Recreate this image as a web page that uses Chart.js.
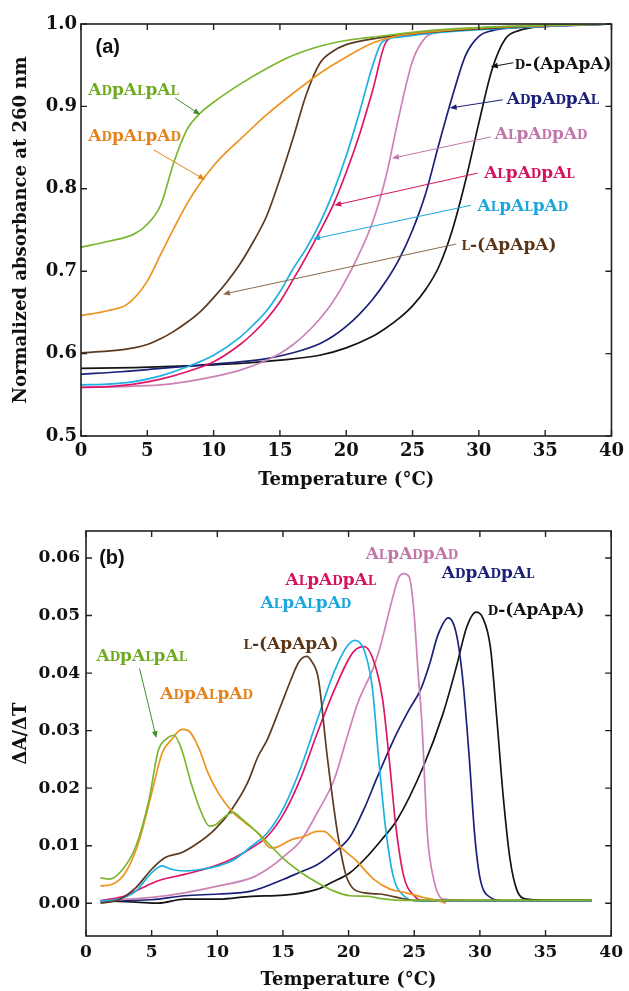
<!DOCTYPE html>
<html>
<head>
<meta charset="utf-8">
<script src="https://cdn.jsdelivr.net/npm/chart.js@4.4.1/dist/chart.umd.min.js"></script>
<style>
  html, body { margin: 0; padding: 0; background: #fff; }
  #wrapA { position: absolute; left: 0; top: 0; }
  #wrapB { position: absolute; left: 0; top: 500px; }
</style>
</head>
<body>
<div id="wrapA"><canvas id="chartA" width="629" height="500"></canvas></div>
<div id="wrapB"><canvas id="chartB" width="629" height="491"></canvas></div>
<script>
// series order is the same in every array below
const seriesNames = ['ADpALpAL', 'ADpALpAD', 'L-(ApApA)', 'ALpALpAD', 'ALpADpAL', 'ALpADpAD', 'ADpADpAL', 'D-(ApApA)'];
const seriesColors = ['#7cb630', '#ec9320', '#5b3a1f', '#1cb0e4', '#df1668', '#cc82b5', '#1b2078', '#141414'];

const xTicks = [0, 5, 10, 15, 20, 25, 30, 35, 40];
const yTicksA = [0.5, 0.6, 0.7, 0.8, 0.9, 1.0];
const yTicksB = [0.00, 0.01, 0.02, 0.03, 0.04, 0.05, 0.06];

// (a) normalized absorbance at 260 nm vs temperature
const tempA = [
  [0, 2, 4, 5, 6, 7, 8, 9, 10, 12, 14, 16, 18, 20, 22, 25, 28, 32, 36, 40],
  [0, 2, 3.5, 5, 6, 7, 8, 9, 10, 11, 12, 14, 16, 18, 20, 22, 24, 26, 30, 35, 40],
  [0, 2, 4, 5, 6, 7, 8, 9, 10, 11, 12, 13, 14, 15, 16, 17, 18, 19, 20, 22, 25, 30, 35, 40],
  [0, 2, 4, 6, 8, 10, 12, 13, 14, 15, 16, 17, 18, 19, 20, 21, 22, 22.7, 24, 26, 30, 35, 40],
  [0, 2, 4, 6, 8, 10, 12, 13, 14, 15, 16, 17, 18, 19, 20, 21, 22, 23, 24, 26, 30, 35, 40],
  [0, 3, 6, 8, 10, 12, 14, 15, 16, 17, 18, 19, 20, 21, 22, 23, 24, 25, 26, 27, 30, 35, 40],
  [0, 3, 6, 9, 12, 14, 16, 18, 19, 20, 21, 22, 23, 24, 25, 26, 27, 28, 29, 30, 31, 33, 36, 40],
  [0, 4, 8, 12, 15, 18, 20, 22, 23, 24, 25, 26, 27, 28, 29, 30, 31, 32, 33, 35, 40]
];
const absA = [
  [0.729, 0.736, 0.745, 0.757, 0.78, 0.832, 0.872, 0.892, 0.905, 0.927, 0.946, 0.962, 0.973, 0.980, 0.984, 0.99, 0.994, 0.997, 0.999, 1.0],
  [0.646, 0.652, 0.660, 0.688, 0.72, 0.752, 0.782, 0.807, 0.828, 0.845, 0.86, 0.89, 0.916, 0.94, 0.96, 0.977, 0.986, 0.99, 0.995, 0.998, 1.0],
  [0.601, 0.603, 0.607, 0.611, 0.618, 0.627, 0.638, 0.651, 0.668, 0.687, 0.709, 0.736, 0.767, 0.812, 0.862, 0.915, 0.952, 0.967, 0.975, 0.982, 0.988, 0.994, 0.998, 1.0],
  [0.562, 0.563, 0.566, 0.573, 0.584, 0.598, 0.62, 0.635, 0.652, 0.675, 0.703, 0.728, 0.758, 0.795, 0.84, 0.893, 0.95, 0.978, 0.984, 0.988, 0.993, 0.997, 1.0],
  [0.559, 0.56, 0.563, 0.569, 0.578, 0.59, 0.611, 0.625, 0.642, 0.663, 0.69, 0.718, 0.748, 0.78, 0.82, 0.866, 0.92, 0.978, 0.986, 0.99, 0.994, 0.997, 1.0],
  [0.559, 0.56, 0.562, 0.566, 0.572, 0.58, 0.592, 0.6, 0.611, 0.625, 0.642, 0.663, 0.69, 0.722, 0.76, 0.815, 0.89, 0.955, 0.984, 0.99, 0.995, 0.998, 1.0],
  [0.575, 0.578, 0.582, 0.586, 0.59, 0.594, 0.601, 0.612, 0.621, 0.633, 0.648, 0.666, 0.688, 0.715, 0.75, 0.795, 0.855, 0.912, 0.962, 0.985, 0.992, 0.996, 0.998, 1.0],
  [0.582, 0.583, 0.585, 0.588, 0.592, 0.598, 0.607, 0.621, 0.631, 0.643, 0.658, 0.678, 0.706, 0.75, 0.81, 0.88, 0.945, 0.982, 0.992, 0.997, 1.0]
];

// (b) dA/dT vs temperature
const tempB = [
  [1.1, 1.8, 2.8, 3.8, 4.8, 5.5, 6.2, 6.7, 7.3, 8.0, 8.8, 9.4, 9.9, 10.6, 11.2, 11.8, 13.1, 14.1, 15.1, 16.4, 17.6, 18.9, 20.1, 21.5, 22.5, 24, 27, 32, 38.5],
  [1.1, 2, 3, 4, 5, 5.8, 6.5, 7.3, 7.8, 8.55, 9.3, 10.1, 11.1, 12.1, 13.1, 14.1, 14.6, 15.6, 16.6, 17.6, 18.1, 18.9, 19.6, 20.5, 21.9, 23.2, 24.4, 25.7, 26.9, 27.4],
  [1.1, 2.5, 3.8, 5, 6, 7.3, 8.55, 9.8, 11.1, 12.3, 13.1, 13.8, 14.8, 15.6, 16.2, 16.8, 17.2, 17.7, 18.4, 19.2, 19.9, 21.2, 22.4, 23.7, 25, 30, 38.5],
  [1.1, 2.5, 3.8, 5, 5.8, 6.5, 7.5, 8.8, 10.1, 11.3, 12.6, 13.8, 15.1, 16.4, 17.6, 18.9, 19.9, 20.5, 21.2, 21.8, 22.3, 22.8, 23.4, 24.2, 25.2, 30, 38.5],
  [1.1, 3, 4.3, 5.5, 7.5, 10.1, 11.3, 12.6, 13.8, 15.1, 16.4, 17.6, 18.9, 20.1, 20.6, 21.2, 21.9, 22.6, 23.1, 23.6, 24.2, 25, 25.7, 30, 38.5],
  [1.1, 5, 7.5, 10.1, 12.6, 13.8, 15.1, 16.4, 17.6, 18.9, 19.9, 20.7, 21.9, 22.4, 23.3, 23.8, 24.2, 24.6, 24.95, 25.3, 25.6, 26, 26.5, 27.2, 30, 38.5],
  [1.1, 5, 7.5, 10.1, 12.6, 15.1, 16.2, 17.6, 18.7, 20.1, 21.2, 22.2, 23.6, 24.6, 25.5, 26.2, 26.8, 27.6, 28.2, 28.7, 29.2, 29.6, 30, 30.8, 31.8, 38.5],
  [1.1, 3.8, 5.5, 7.5, 10.1, 12.6, 15.1, 17.6, 18.7, 20.1, 21.2, 22.5, 23.7, 25.7, 27.2, 28.2, 29, 29.7, 30.2, 30.8, 31.3, 31.8, 32.3, 32.8, 33.6, 35, 38.5]
];
const dAdT = [
  [0.0044, 0.0042, 0.0059, 0.0099, 0.018, 0.0265, 0.0287, 0.0292, 0.0266, 0.0209, 0.0157, 0.0134, 0.0137, 0.0151, 0.0158, 0.0148, 0.0122, 0.0099, 0.0076, 0.0053, 0.0036, 0.0021, 0.0013, 0.0012, 0.0008, 0.0005, 0.0005, 0.0005, 0.0005],
  [0.003, 0.0033, 0.0053, 0.0105, 0.0191, 0.0261, 0.0284, 0.0302, 0.03, 0.0272, 0.0226, 0.0191, 0.016, 0.014, 0.0122, 0.0096, 0.0098, 0.011, 0.0116, 0.0125, 0.0125, 0.011, 0.0093, 0.0076, 0.0042, 0.0024, 0.0018, 0.001, 0.0004, 0.0],
  [0.0, 0.0006, 0.0027, 0.0059, 0.0079, 0.0088, 0.0105, 0.0128, 0.0163, 0.0209, 0.0255, 0.0284, 0.0341, 0.0388, 0.0419, 0.0429, 0.042, 0.039, 0.025, 0.0116, 0.0042, 0.0018, 0.0016, 0.001, 0.0005, 0.0005, 0.0005],
  [0.0004, 0.0007, 0.0021, 0.0053, 0.0065, 0.0059, 0.0056, 0.0059, 0.0065, 0.0076, 0.0099, 0.0122, 0.0168, 0.0238, 0.0318, 0.0402, 0.0447, 0.0457, 0.0439, 0.0376, 0.0249, 0.0134, 0.0047, 0.0013, 0.0004, 0.0004, 0.0004],
  [0.0004, 0.0013, 0.0027, 0.0039, 0.005, 0.0067, 0.0079, 0.0096, 0.0116, 0.0157, 0.022, 0.0295, 0.037, 0.0428, 0.0442, 0.0446, 0.0422, 0.0353, 0.0249, 0.0134, 0.0047, 0.0013, 0.0004, 0.0004, 0.0004],
  [0.0004, 0.001, 0.0018, 0.003, 0.0044, 0.0059, 0.0082, 0.011, 0.0157, 0.0215, 0.029, 0.0348, 0.041, 0.0445, 0.0526, 0.0565, 0.0573, 0.0568, 0.0514, 0.040, 0.0307, 0.012, 0.004, 0.0007, 0.0004, 0.0004],
  [0.0004, 0.0006, 0.0013, 0.0016, 0.0021, 0.0042, 0.0053, 0.0067, 0.0085, 0.0115, 0.0165, 0.022, 0.0292, 0.0336, 0.0372, 0.0418, 0.0466, 0.0496, 0.0469, 0.0388, 0.025, 0.012, 0.0045, 0.001, 0.0004, 0.0004],
  [0.0004, 0.0002, 0.0, 0.0007, 0.0007, 0.0012, 0.0014, 0.0024, 0.0036, 0.0053, 0.0076, 0.011, 0.0145, 0.0238, 0.033, 0.041, 0.048, 0.0506, 0.0497, 0.0445, 0.0318, 0.018, 0.0076, 0.0024, 0.0007, 0.0005, 0.0005]
];

const SERIF = '"DejaVu Serif", "Liberation Serif", serif';
const SANS = '"Liberation Sans", Arial, sans-serif';

// text in braces is drawn as small capitals, e.g. A{D}pA{L}
function drawRich(ctx, str, x, yMid, size, color) {
  const segs = [];
  let buf = '', small = false;
  for (const ch of str) {
    if (ch === '{' || ch === '}') {
      if (buf) segs.push([buf, small]);
      buf = '';
      small = ch === '{';
    } else buf += ch;
  }
  if (buf) segs.push([buf, small]);
  ctx.save();
  ctx.fillStyle = color;
  ctx.textBaseline = 'alphabetic';
  ctx.textAlign = 'left';
  let cx = x;
  const base = yMid + size * 0.36;
  for (const [t, sm] of segs) {
    ctx.font = 'bold ' + (sm ? Math.round(size * 0.72) : size) + 'px ' + SERIF;
    ctx.fillText(t, cx, base);
    cx += ctx.measureText(t).width;
  }
  ctx.restore();
}

function drawArrow(ctx, x0, y0, x1, y1, color) {
  const ang = Math.atan2(y1 - y0, x1 - x0), L = 7, W = 2.8;
  ctx.save();
  ctx.strokeStyle = color;
  ctx.fillStyle = color;
  ctx.lineWidth = 1;
  ctx.beginPath();
  ctx.moveTo(x0, y0);
  ctx.lineTo(x1 - L * 0.6 * Math.cos(ang), y1 - L * 0.6 * Math.sin(ang));
  ctx.stroke();
  ctx.beginPath();
  ctx.moveTo(x1, y1);
  ctx.lineTo(x1 - L * Math.cos(ang) + W * Math.sin(ang), y1 - L * Math.sin(ang) - W * Math.cos(ang));
  ctx.lineTo(x1 - L * Math.cos(ang) - W * Math.sin(ang), y1 - L * Math.sin(ang) + W * Math.cos(ang));
  ctx.closePath();
  ctx.fill();
  ctx.restore();
}

// box round the plot with inward ticks on all four sides
const framePlugin = {
  id: 'frame',
  afterDraw(chart) {
    const { ctx, chartArea: a, scales: { x, y } } = chart;
    const len = 6;
    ctx.save();
    ctx.strokeStyle = '#222';
    ctx.lineWidth = 1.4;
    ctx.beginPath();
    x.ticks.forEach(t => {
      const px = x.getPixelForValue(t.value);
      ctx.moveTo(px, a.bottom); ctx.lineTo(px, a.bottom - len);
      ctx.moveTo(px, a.top); ctx.lineTo(px, a.top + len);
    });
    y.ticks.forEach(t => {
      const py = y.getPixelForValue(t.value);
      ctx.moveTo(a.left, py); ctx.lineTo(a.left + len, py);
      ctx.moveTo(a.right, py); ctx.lineTo(a.right - len, py);
    });
    ctx.stroke();
    ctx.lineWidth = 1.6;
    ctx.strokeRect(a.left, a.top, a.right - a.left, a.bottom - a.top);
    ctx.restore();
  }
};

// panel letter, curve labels and arrows, placed in data units
const notesPlugin = {
  id: 'notes',
  afterDraw(chart, args, opts) {
    const { ctx, scales: { x, y } } = chart;
    if (opts.panel) {
      ctx.save();
      ctx.font = 'bold 20px ' + SANS;
      ctx.fillStyle = '#111';
      ctx.textBaseline = 'middle';
      ctx.fillText(opts.panel.text, x.getPixelForValue(opts.panel.x), y.getPixelForValue(opts.panel.y));
      ctx.restore();
    }
    (opts.items || []).forEach(n => {
      drawRich(ctx, n.text, x.getPixelForValue(n.x), y.getPixelForValue(n.y), 17, n.color);
      if (n.arrow) {
        const [ax0, ay0, ax1, ay1] = n.arrow;
        drawArrow(ctx, x.getPixelForValue(ax0), y.getPixelForValue(ay0),
          x.getPixelForValue(ax1), y.getPixelForValue(ay1), n.arrowColor || n.color);
      }
    });
  }
};

function buildSets(temps, vals) {
  return seriesNames.map((name, i) => ({
    label: name,
    data: temps[i].map((t, k) => ({ x: t, y: vals[i][k] })),
    borderColor: seriesColors[i],
    borderWidth: 1.7,
    pointRadius: 0,
    fill: false,
    cubicInterpolationMode: 'monotone'
  }));
}

function axisFont(size) {
  return { family: SERIF, size: size, weight: 'bold' };
}

function makeOptions(cfg) {
  return {
    responsive: false,
    animation: false,
    events: [],
    layout: { padding: cfg.padding },
    plugins: {
      legend: { display: false },
      tooltip: { enabled: false },
      notes: cfg.notes
    },
    scales: {
      x: {
        type: 'linear',
        min: 0, max: 40,
        afterFit: s => { s.height = cfg.xHeight; },
        afterBuildTicks: s => { s.ticks = xTicks.map(v => ({ value: v })); },
        grid: { display: false, drawTicks: false },
        border: { display: false },
        ticks: { color: '#111', font: axisFont(cfg.tickSize), padding: cfg.xPad, maxRotation: 0 },
        title: { display: true, text: 'Temperature (°C)', color: '#111', font: axisFont(18), padding: { top: 0, bottom: cfg.xTitlePad } }
      },
      y: {
        min: cfg.yMin, max: cfg.yMax,
        afterFit: s => { s.width = cfg.yWidth; },
        afterBuildTicks: s => { s.ticks = cfg.yTicks.map(v => ({ value: v })); },
        grid: { display: false, drawTicks: false },
        border: { display: false },
        ticks: { color: '#111', font: axisFont(cfg.tickSize), padding: cfg.yPad, callback: v => v.toFixed(cfg.digits) },
        title: { display: true, text: cfg.yTitle, color: '#111', font: axisFont(18), padding: { top: cfg.yTitlePad, bottom: 0 } }
      }
    }
  };
}

new Chart(document.getElementById('chartA'), {
  type: 'line',
  data: { datasets: buildSets(tempA, absA) },
  options: makeOptions({
    padding: { left: 0, right: 9, top: 24, bottom: 0 },
    xHeight: 64, yWidth: 81, xPad: 5, yPad: 4, xTitlePad: 9, yTitlePad: 11,
    tickSize: 18, yMin: 0.5, yMax: 1.0, yTicks: yTicksA, digits: 1,
    yTitle: 'Normalized absorbance at 260 nm',
    notes: {
      panel: { text: '(a)', x: 1.1, y: 0.972 },
      items: [
        { text: 'A{D}pA{L}pA{L}', x: 0.55, y: 0.921, color: '#6fab22', arrowColor: '#3f8f2c', arrow: [7.1, 0.910, 9.0, 0.890] },
        { text: 'A{D}pA{L}pA{D}', x: 0.55, y: 0.865, color: '#e4821d', arrow: [5.5, 0.847, 9.35, 0.811] },
        { text: '{D}-(ApApA)', x: 32.7, y: 0.953, color: '#111', arrow: [32.6, 0.953, 30.9, 0.948] },
        { text: 'A{D}pA{D}pA{L}', x: 32.1, y: 0.91, color: '#1b2078', arrow: [31.8, 0.908, 27.8, 0.898] },
        { text: 'A{L}pA{D}pA{D}', x: 31.2, y: 0.868, color: '#c175a8', arrow: [30.9, 0.863, 23.45, 0.837] },
        { text: 'A{L}pA{D}pA{L}', x: 30.4, y: 0.82, color: '#d3135f', arrow: [29.9, 0.819, 19.1, 0.780] },
        { text: 'A{L}pA{L}pA{D}', x: 29.9, y: 0.781, color: '#1aa6dd', arrow: [29.4, 0.780, 17.5, 0.739] },
        { text: '{L}-(ApApA)', x: 28.7, y: 0.733, color: '#5b3515', arrowColor: '#8a6a4a', arrow: [28.3, 0.733, 10.7, 0.672] }
      ]
    }
  }),
  plugins: [framePlugin, notesPlugin]
});

new Chart(document.getElementById('chartB'), {
  type: 'line',
  data: { datasets: buildSets(tempB, dAdT) },
  options: makeOptions({
    padding: { left: 0, right: 11, top: 31, bottom: 0 },
    xHeight: 55, yWidth: 86, xPad: 6, yPad: 6, xTitlePad: 0, yTitlePad: 11,
    tickSize: 17, yMin: -0.0057, yMax: 0.0647, yTicks: yTicksB, digits: 2,
    yTitle: 'ΔA/ΔT',
    notes: {
      panel: { text: '(b)', x: 1.0, y: 0.0600 },
      items: [
        { text: 'A{L}pA{D}pA{D}', x: 21.3, y: 0.0609, color: '#c175a8' },
        { text: 'A{D}pA{D}pA{L}', x: 27.1, y: 0.0576, color: '#1b2078' },
        { text: 'A{L}pA{D}pA{L}', x: 15.2, y: 0.0564, color: '#d3135f' },
        { text: 'A{L}pA{L}pA{D}', x: 13.3, y: 0.0523, color: '#1aa6dd' },
        { text: '{D}-(ApApA)', x: 30.6, y: 0.0512, color: '#111' },
        { text: '{L}-(ApApA)', x: 12.0, y: 0.0452, color: '#5b3515' },
        { text: 'A{D}pA{L}pA{L}', x: 0.8, y: 0.0431, color: '#6fab22', arrowColor: '#3f8f2c', arrow: [4.08, 0.0408, 5.36, 0.0287] },
        { text: 'A{D}pA{L}pA{D}', x: 5.66, y: 0.0365, color: '#e4821d' }
      ]
    }
  }),
  plugins: [framePlugin, notesPlugin]
});
</script>
</body>
</html>
